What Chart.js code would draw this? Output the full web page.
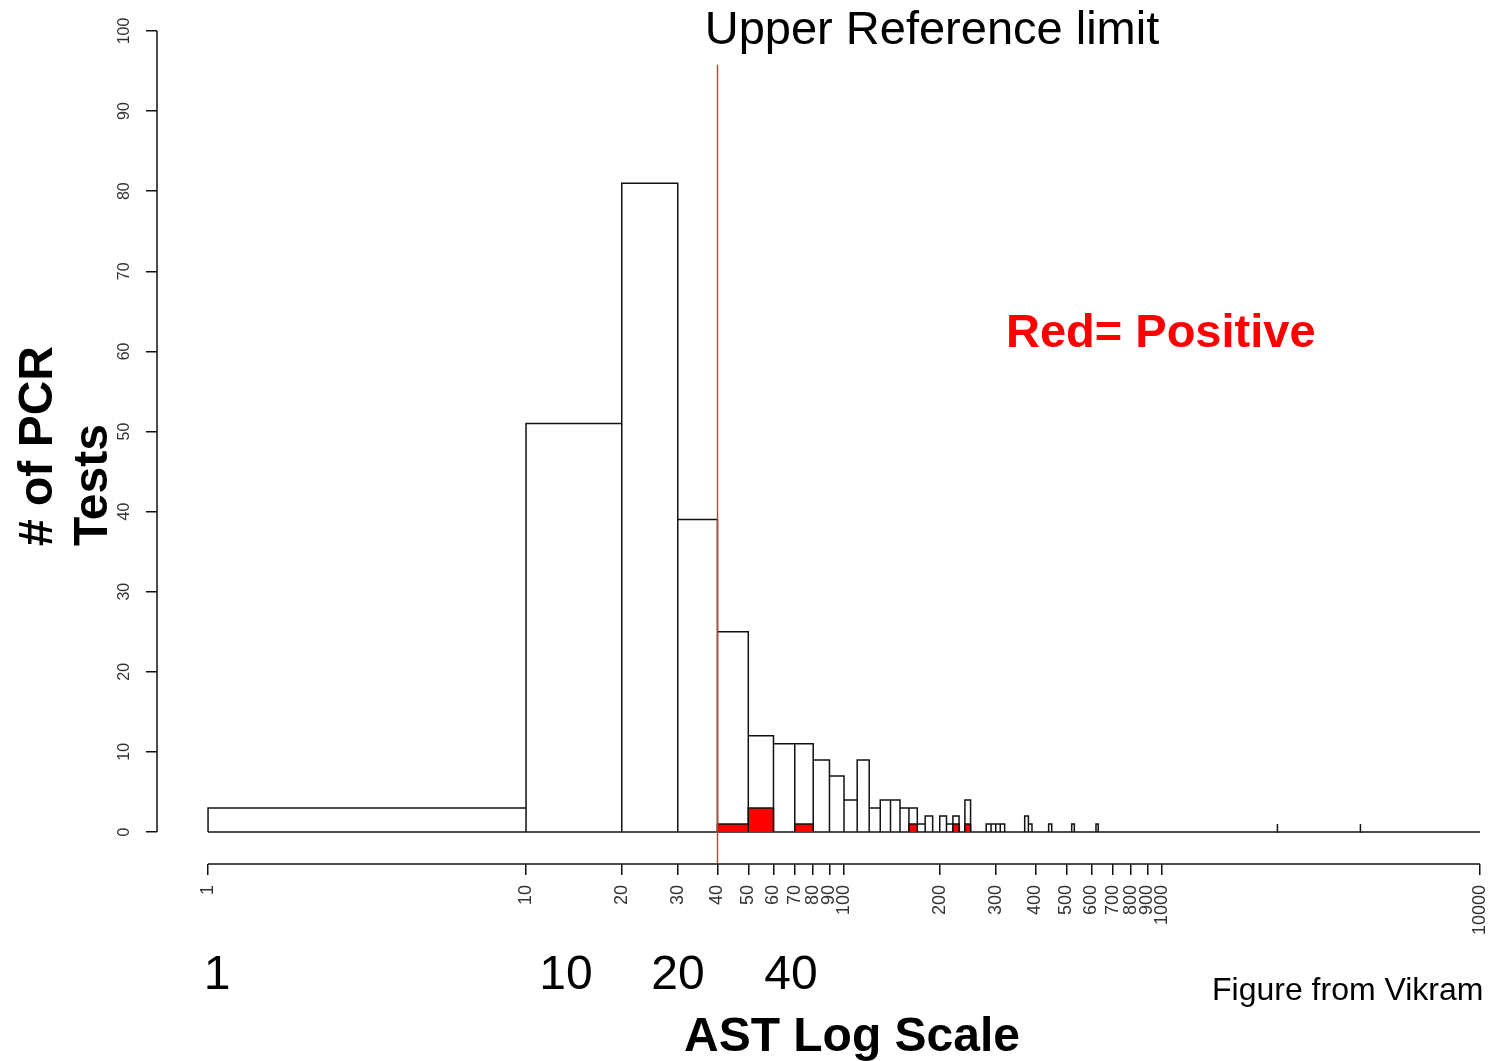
<!DOCTYPE html>
<html>
<head>
<meta charset="utf-8">
<title>AST Log Scale</title>
<script src="https://cdn.jsdelivr.net/npm/chart.js@4.4.1/dist/chart.umd.min.js"></script>
<style>
  html, body { margin: 0; padding: 0; background: #fff; }
  canvas { display: block; }
</style>
</head>
<body>
<canvas id="astChart" width="1488" height="1061"></canvas>
<script>
  // histogram bins of AST (lower / upper break) with number of PCR tests
  const binLo = [1, 10, 20, 30, 40, 50, 60, 70, 80, 90, 100, 110, 120, 130, 140, 150, 160, 170, 180, 200, 210, 220, 240, 280, 290, 300, 310, 370, 380, 440, 520, 620, 2300, 4200];
  const binHi = [10, 20, 30, 40, 50, 60, 70, 80, 90, 100, 110, 120, 130, 140, 150, 160, 170, 180, 190, 210, 220, 230, 250, 290, 300, 310, 320, 380, 390, 450, 530, 630, 2310, 4210];
  const counts = [3, 51, 81, 39, 25, 12, 11, 11, 9, 7, 4, 9, 3, 4, 4, 3, 3, 1, 2, 2, 1, 2, 4, 1, 1, 1, 1, 2, 1, 1, 1, 1, 1, 1];
  const positives = [0, 0, 0, 0, 1, 3, 0, 1, 0, 0, 0, 0, 0, 0, 0, 0, 1, 0, 0, 0, 0, 1, 1, 0, 0, 0, 0, 0, 0, 0, 0, 0, 0, 0];

  const xTicks = [1, 10, 20, 30, 40, 50, 60, 70, 80, 90, 100, 200, 300, 400, 500, 600, 700, 800, 900, 1000, 10000];
  const yTicks = [0, 10, 20, 30, 40, 50, 60, 70, 80, 90, 100];
  const bigLabels = ['1', '10', '20', '40'];

  const upperRefLimit = 40;
  const refLineTop = 95.8;
  const xMin = 0.691, xMax = 10000;   // axis range, leaves a gap before x = 1
  const yMin = -4, yMax = 100;        // gap under 0 holds the detached x axis

  const FONT = '"Liberation Sans", Arial, sans-serif';
  const INK = '#111';

  // each bin becomes a closed rectangle, null splits it from the next one
  function rects(values) {
    const pts = [];
    binLo.forEach((lo, i) => {
      const h = values[i];
      if (!h) return;
      const hi = binHi[i];
      pts.push({x: lo, y: 0}, {x: lo, y: h}, {x: hi, y: h}, {x: hi, y: 0}, {x: hi, y: null});
    });
    return pts;
  }

  const lineBase = {
    type: 'line',
    pointRadius: 0,
    pointHoverRadius: 0,
    tension: 0,
    spanGaps: false,
    borderCapStyle: 'butt',
    borderJoinStyle: 'miter'
  };

  const datasets = [
    Object.assign({}, lineBase, {
      label: 'Upper reference limit',
      data: [{x: upperRefLimit, y: yMin}, {x: upperRefLimit, y: refLineTop}],
      borderColor: 'rgb(255, 40, 40)', backgroundColor: 'rgb(255, 40, 40)', borderWidth: 1.4, fill: false, order: -1
    }),
    Object.assign({}, lineBase, {
      label: 'Positive',
      data: rects(positives),
      borderColor: INK, borderWidth: 1.5, backgroundColor: '#ff0000', fill: 'origin', order: 0
    }),
    Object.assign({}, lineBase, {
      label: 'Tests',
      data: rects(counts),
      borderColor: INK, borderWidth: 1.5, fill: false, order: 1
    }),
    Object.assign({}, lineBase, {
      label: 'baseline',
      data: [{x: 1, y: 0}, {x: 10000, y: 0}],
      borderColor: INK, borderWidth: 1.5, fill: false, order: 2
    })
  ];

  // axis lines only over the labelled range, plus the free text
  const decorations = {
    id: 'decorations',
    afterDraw(chart) {
      const {ctx, chartArea} = chart;
      const x = chart.scales.x, y = chart.scales.y;
      ctx.save();
      ctx.strokeStyle = INK;
      ctx.lineWidth = 1.5;
      ctx.beginPath();
      ctx.moveTo(chartArea.left, y.getPixelForValue(0));
      ctx.lineTo(chartArea.left, y.getPixelForValue(100));
      ctx.moveTo(x.getPixelForValue(1), chartArea.bottom);
      ctx.lineTo(x.getPixelForValue(10000), chartArea.bottom);
      ctx.stroke();

      ctx.fillStyle = '#000';
      ctx.textBaseline = 'alphabetic';

      ctx.font = '47px ' + FONT;
      ctx.textAlign = 'center';
      ctx.fillText('Upper Reference limit', 932, 44);

      ctx.font = 'bold 47px ' + FONT;
      ctx.fillStyle = '#ff0000';
      ctx.textAlign = 'left';
      ctx.fillText('Red= Positive', 1006, 347);

      ctx.fillStyle = '#000';
      ctx.font = '48px ' + FONT;
      ctx.textAlign = 'center';
      const bigX = [217, 566, 678, 791];
      bigLabels.forEach((t, i) => ctx.fillText(t, bigX[i], 989));

      ctx.font = '32px ' + FONT;
      ctx.textAlign = 'left';
      ctx.fillText('Figure from Vikram', 1212, 1000);

      ctx.font = 'bold 48px ' + FONT;
      ctx.textAlign = 'center';
      ctx.fillText('AST Log Scale', 852, 1051);

      // y title, two lines reading bottom to top
      ctx.textAlign = 'left';
      [['# of PCR', 52], ['Tests', 107]].forEach(([t, bx]) => {
        ctx.save();
        ctx.translate(bx, 546);
        ctx.rotate(-Math.PI / 2);
        ctx.fillText(t, 0, 0);
        ctx.restore();
      });
      ctx.restore();
    }
  };

  new Chart(document.getElementById('astChart'), {
    type: 'line',
    data: {datasets},
    options: {
      responsive: false,
      animation: false,
      events: [],
      layout: {padding: {top: 31, right: 8, bottom: 97, left: 0}},
      plugins: {
        legend: {display: false},
        title: {display: false},
        tooltip: {enabled: false}
      },
      scales: {
        x: {
          type: 'logarithmic',
          min: xMin,
          max: xMax,
          border: {display: false},
          grid: {display: true, drawOnChartArea: false, drawTicks: true, tickLength: 11, color: INK, lineWidth: 1.5},
          ticks: {
            autoSkip: false,
            minRotation: 90,
            maxRotation: 90,
            padding: 10,
            color: '#333',
            font: {family: FONT, size: 18},
            callback: v => String(v)
          },
          afterBuildTicks(scale) { scale.ticks = xTicks.map(v => ({value: v})); },
          afterFit(scale) { scale.height = 100; scale.paddingLeft = 0; scale.paddingRight = 0; }
        },
        y: {
          type: 'linear',
          min: yMin,
          max: yMax,
          border: {display: false},
          grid: {display: true, drawOnChartArea: false, drawTicks: true, tickLength: 11, color: INK, lineWidth: 1.5},
          ticks: {
            minRotation: 90,
            maxRotation: 90,
            crossAlign: 'center',
            padding: 8,
            color: '#333',
            font: {family: FONT, size: 16}
          },
          afterBuildTicks(scale) { scale.ticks = yTicks.map(v => ({value: v})); },
          afterFit(scale) { scale.width = 157; scale.paddingTop = 0; scale.paddingBottom = 0; }
        }
      }
    },
    plugins: [decorations]
  });
</script>
</body>
</html>
